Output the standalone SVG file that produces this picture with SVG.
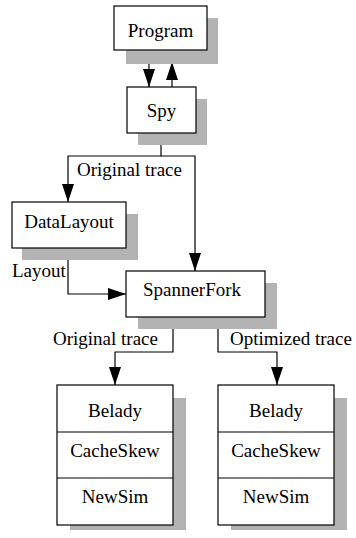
<svg xmlns="http://www.w3.org/2000/svg" width="356" height="538" viewBox="0 0 356 538" font-family="Liberation Serif, Times New Roman, serif" font-size="19">
<style>
.sh{fill:#b3b3b3;stroke:none}
.bx{fill:#fff;stroke:#000;stroke-width:1.2}
.ln{fill:none;stroke:#000;stroke-width:1.2}
.t{font-family:"Liberation Serif",serif;font-size:19px;fill:#000}
.c{text-anchor:middle}
</style>
<defs>
<marker id="ah" markerWidth="18" markerHeight="12" refX="18" refY="6" viewBox="0 0 18 12" markerUnits="userSpaceOnUse" orient="auto">
<path d="M0,0 L18,6 L0,12 Z" fill="#000"/>
</marker>
</defs>
<rect width="356" height="538" fill="#fff"/>
<g id="connectors">
<line class="ln" x1="149" y1="50" x2="149" y2="87" marker-end="url(#ah)"/>
<line class="ln" x1="172" y1="87" x2="172" y2="62" marker-end="url(#ah)"/>
<polyline class="ln" points="161,133 161,156 68,156 68,202" marker-end="url(#ah)"/>
<polyline class="ln" points="161,156 195,156 195,271" marker-end="url(#ah)"/>
<polyline class="ln" points="68,248 68,294 126,294" marker-end="url(#ah)"/>
<polyline class="ln" points="173,317 173,352 115,352 115,385" marker-end="url(#ah)"/>
<polyline class="ln" points="218,317 218,352 277,352 277,385" marker-end="url(#ah)"/>
<text class="t" x="77" y="176">Original trace</text>
<text class="t" x="12" y="277">Layout</text>
<text class="t" x="53" y="345">Original trace</text>
<text class="t" x="230" y="345">Optimized trace</text>
</g>
<g id="program">
<rect class="sh" x="126" y="18" width="92" height="46"/>
<rect class="bx" x="114" y="6" width="93" height="44"/>
<text class="t c" x="160.5" y="37">Program</text>
</g>
<g id="spy">
<rect class="sh" x="138" y="99" width="69" height="46"/>
<rect class="bx" x="127" y="87" width="69" height="46"/>
<text class="t c" x="161.5" y="117">Spy</text>
</g>
<g id="datalayout">
<rect class="sh" x="22" y="214" width="116" height="46"/>
<rect class="bx" x="12" y="202" width="114" height="46"/>
<text class="t c" x="69" y="228">DataLayout</text>
</g>
<g id="spannerfork">
<rect class="sh" x="138" y="283" width="139" height="46"/>
<rect class="bx" x="126" y="271" width="139" height="46"/>
<text class="t c" x="192" y="296">SpannerFork</text>
</g>
<g id="sim-left">
<rect class="sh" x="70" y="398" width="116" height="132"/>
<rect class="bx" x="57" y="385" width="116" height="140"/>
<line class="ln" x1="57" y1="432" x2="173" y2="432"/>
<line class="ln" x1="57" y1="478" x2="173" y2="478"/>
<text class="t c" x="115" y="417">Belady</text>
<text class="t c" x="115" y="457">CacheSkew</text>
<text class="t c" x="115" y="503">NewSim</text>
</g>
<g id="sim-right">
<rect class="sh" x="231" y="398" width="116" height="132"/>
<rect class="bx" x="218" y="385" width="116" height="140"/>
<line class="ln" x1="218" y1="432" x2="334" y2="432"/>
<line class="ln" x1="218" y1="478" x2="334" y2="478"/>
<text class="t c" x="276" y="417">Belady</text>
<text class="t c" x="276" y="457">CacheSkew</text>
<text class="t c" x="276" y="503">NewSim</text>
</g>
</svg>
